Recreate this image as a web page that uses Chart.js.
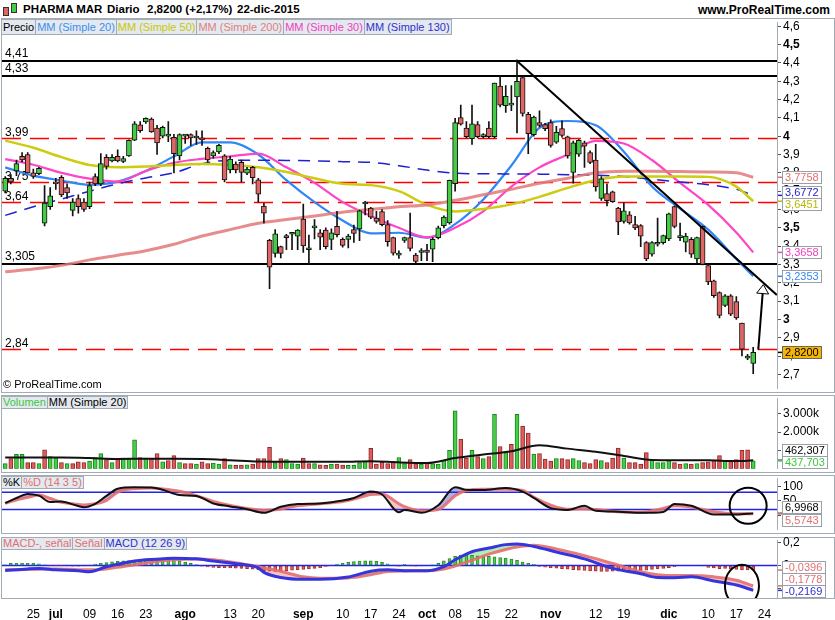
<!DOCTYPE html>
<html>
<head>
<meta charset="utf-8">
<title>PHARMA MAR - Diario</title>
<script src="https://cdn.jsdelivr.net/npm/chart.js@4.4.1/dist/chart.umd.min.js"></script>
<style>
  body { margin: 0; background: #fff; }
  #page { position: relative; width: 835px; height: 620px; overflow: hidden; font-family: Arial, "Liberation Sans", sans-serif; color: #000; }
  #page canvas { position: absolute; left: 0; z-index: 2; }
  .frame { position: absolute; left: 1px; width: 834px; border: 1px solid #a3abb5; box-sizing: border-box; z-index: 1; }
  .head { position: absolute; top: 3px; font-size: 11.5px; font-weight: bold; white-space: nowrap; }
  .tags { position: absolute; left: 1px; display: flex; z-index: 3; }
  .tags span { display: block; font-size: 11px; background: #e3e9ef; border: 1px solid #a3abb5; margin-right: -1px; padding: 0 1px; white-space: nowrap; box-sizing: border-box; }
  .tags.big span { height: 16px; line-height: 14px; font-size: 11px; }
  .tags.small span { height: 13px; line-height: 11px; }
  .ico { position: absolute; border: 1px solid #333; box-sizing: border-box; }
  #copy { position: absolute; left: 3px; top: 378px; font-size: 11px; z-index: 3; }
</style>
</head>
<body>
<div id="page">
  <div class="ico" style="left:3px;top:7px;width:6px;height:9px;background:#e06666"></div>
  <div class="ico" style="left:11px;top:3px;width:6px;height:10px;background:#44cc44"></div>
  <div class="head" style="left:23px">PHARMA MAR</div>
  <div class="head" style="left:107px">Diario</div>
  <div class="head" style="left:147px">2,8200 (+2,17%)</div>
  <div class="head" style="left:237px">22-dic-2015</div>
  <div class="head" style="right:5px;font-size:12px">www.ProRealTime.com</div>

  <div class="frame" style="top:18px;height:375px"></div>
  <div class="frame" style="top:395px;height:78px"></div>
  <div class="frame" style="top:475px;height:59px"></div>
  <div class="frame" style="top:537px;height:62px"></div>

  <canvas id="cMain" width="835" height="385" style="top:13px"></canvas>
  <canvas id="cVol" width="835" height="89" style="top:389px"></canvas>
  <canvas id="cSto" width="835" height="70" style="top:469px"></canvas>
  <canvas id="cMacd" width="835" height="89" style="top:531px"></canvas>

  <div class="tags big" style="top:19px">
    <span>Precio</span><span style="color:#3c8cf0">MM (Simple 20)</span><span style="color:#c8c800">MM (Simple 50)</span><span style="color:#e08080">MM (Simple 200)</span><span style="color:#f040c0">MM (Simple 30)</span><span style="color:#3030d0">MM (Simple 130)</span>
  </div>
  <div class="tags small" style="top:396px"><span style="color:#3cc83c">Volumen</span><span>MM (Simple 20)</span></div>
  <div class="tags small" style="top:476px"><span>%K</span><span style="color:#e07070">%D (14 3 5)</span></div>
  <div class="tags small" style="top:537px"><span style="color:#e07070">MACD-, señal</span><span style="color:#e07070">Señal</span><span style="color:#3030d0">MACD (12 26 9)</span></div>
  <div id="copy">© ProRealTime.com</div>
</div>
<script>
// ---- daily bars, 18-jun-2015 .. 22-dic-2015 (index 0..133) ----
const opens = [3.70,3.77,3.81,3.89,3.90,3.80,3.795,3.525,3.615,3.745,
  3.775,3.72,3.595,3.66,3.64,3.615,3.78,3.74,3.885,3.865,
  3.89,3.862,3.893,3.978,4.062,4.078,4.094,4.044,4.0,4.0,
  3.994,3.893,4.0,4.009,3.99,3.99,3.934,3.893,3.914,3.893,
  3.816,3.848,3.857,3.798,3.83,3.762,3.619,3.431,3.36,3.397,
  3.458,3.465,3.455,3.547,3.38,3.50,3.473,3.487,3.437,3.508,
  3.437,3.437,3.49,3.494,3.63,3.607,3.553,3.589,3.517,3.446,
  3.351,3.431,3.446,3.351,3.365,3.378,3.383,3.446,3.512,3.526,
  3.741,4.102,4.045,3.987,4.063,3.998,4.045,3.998,4.274,4.166,
  4.17,4.215,4.32,4.12,4.009,4.075,4.063,4.075,3.968,4.041,
  3.996,3.803,3.902,3.964,3.911,3.869,3.66,3.687,3.696,3.607,
  3.535,3.571,3.517,3.512,3.419,3.356,3.41,3.419,3.44,3.616,
  3.446,3.422,3.437,3.33,3.508,3.294,3.21,3.147,3.076,3.129,
  3.097,2.98,2.788,2.76];
const highs = [3.78,3.79,3.87,3.91,3.91,3.82,3.83,3.73,3.72,3.77,
  3.785,3.74,3.66,3.68,3.66,3.75,3.795,3.905,3.90,3.90,
  3.925,3.89,3.98,4.08,4.08,4.10,4.10,4.06,4.055,4.08,
  4.01,4.013,4.01,4.013,4.03,4.03,3.94,3.92,3.955,3.90,
  3.89,3.86,3.87,3.83,3.835,3.77,3.633,3.437,3.49,3.40,
  3.465,3.47,3.49,3.63,3.46,3.545,3.49,3.50,3.495,3.59,
  3.445,3.465,3.515,3.597,3.645,3.612,3.59,3.60,3.54,3.45,
  3.374,3.45,3.58,3.36,3.387,3.41,3.446,3.51,3.565,3.76,
  4.098,4.17,4.08,4.17,4.08,4.015,4.08,4.29,4.33,4.277,
  4.277,4.417,4.33,4.13,4.11,4.138,4.07,4.09,4.054,4.084,
  4.0,3.973,3.982,3.973,3.92,3.955,3.78,3.74,3.70,3.612,
  3.637,3.589,3.562,3.517,3.425,3.425,3.553,3.46,3.58,3.62,
  3.526,3.47,3.446,3.45,3.51,3.30,3.215,3.15,3.135,3.135,
  3.124,2.98,2.81,2.847];
const lows = [3.69,3.74,3.785,3.86,3.80,3.77,3.79,3.51,3.60,3.71,
  3.67,3.66,3.565,3.58,3.59,3.605,3.73,3.73,3.82,3.86,
  3.86,3.855,3.89,3.975,4.02,4.07,4.02,3.90,3.99,3.97,
  3.80,3.87,3.96,3.95,3.955,3.95,3.86,3.88,3.905,3.75,
  3.80,3.80,3.75,3.79,3.74,3.64,3.526,3.168,3.34,3.335,
  3.38,3.38,3.38,3.365,3.30,3.44,3.38,3.385,3.38,3.45,
  3.394,3.39,3.42,3.43,3.57,3.55,3.525,3.51,3.40,3.35,
  3.333,3.42,3.374,3.31,3.32,3.32,3.315,3.44,3.50,3.52,
  3.70,4.06,3.99,3.955,3.99,3.99,3.99,3.99,4.16,4.13,
  4.14,4.018,4.11,3.905,4.0,4.05,4.03,3.94,3.96,3.995,
  3.88,3.744,3.89,3.83,3.85,3.70,3.65,3.62,3.638,3.463,
  3.525,3.52,3.49,3.397,3.32,3.345,3.40,3.41,3.43,3.50,
  3.43,3.369,3.338,3.305,3.298,3.19,3.12,3.008,3.07,3.02,
  3.00,2.80,2.78,2.704];
const closes = [3.77,3.75,3.85,3.87,3.80,3.78,3.825,3.635,3.675,3.74,
  3.68,3.69,3.64,3.615,3.60,3.73,3.74,3.85,3.835,3.885,
  3.865,3.878,3.977,4.068,4.03,4.098,4.023,3.964,4.048,4.004,
  3.905,4.009,4.003,3.991,3.993,3.98,3.871,3.911,3.95,3.762,
  3.875,3.816,3.803,3.821,3.773,3.683,3.58,3.285,3.467,3.36,
  3.446,3.469,3.487,3.401,3.383,3.503,3.449,3.397,3.473,3.463,
  3.404,3.455,3.469,3.592,3.633,3.558,3.535,3.517,3.424,3.362,
  3.362,3.446,3.387,3.317,3.368,3.365,3.437,3.50,3.558,3.759,
  4.075,4.066,3.998,4.068,3.998,4.007,3.998,4.29,4.17,4.218,
  4.174,4.30,4.125,4.014,4.104,4.059,4.041,3.95,4.021,4.004,
  3.893,3.964,3.977,3.946,3.857,3.723,3.768,3.648,3.642,3.532,
  3.592,3.526,3.50,3.455,3.33,3.419,3.419,3.458,3.576,3.508,
  3.449,3.455,3.356,3.446,3.30,3.204,3.129,3.022,3.129,3.029,
  3.008,2.838,2.80,2.82];
// volume in thousands of shares
const volumes = [285,552,785,785,335,335,285,1035,668,618,
  335,285,285,385,335,418,618,835,502,335,
  552,585,552,1585,618,585,552,835,385,452,
  718,335,285,285,252,385,285,318,252,552,
  218,185,200,218,252,552,552,1168,335,552,
  502,285,252,585,285,285,218,185,252,252,
  200,185,185,335,418,1118,252,385,285,385,
  618,285,502,285,252,335,285,252,452,1002,
  3168,1618,585,1002,668,552,668,2968,1218,885,
  1335,2968,2335,1952,802,835,535,418,552,552,
  502,552,452,335,285,502,452,335,585,1135,
  585,335,335,252,885,502,335,335,452,335,
  252,285,252,285,335,385,452,718,418,452,
  502,1002,1035,437.703];

// moving averages, read every 5 bars
const maIdx  = [0,5,10,15,20,25,30,35,40,45,50,55,60,65,70,75,80,85,90,95,100,105,110,115,120,125,130,133];
const sma20  = [3.83,3.785,3.758,3.735,3.752,3.81,3.89,3.966,3.966,3.90,3.76,3.64,3.54,3.47,3.473,3.446,3.52,3.655,3.84,4.045,4.083,4.06,3.915,3.726,3.605,3.49,3.33,3.2353];
const sma30  = [3.875,3.844,3.80,3.768,3.752,3.81,3.855,3.876,3.89,3.905,3.83,3.745,3.64,3.565,3.50,3.448,3.50,3.59,3.725,3.83,3.90,3.975,3.96,3.87,3.745,3.625,3.475,3.3658];
const sma50  = [3.976,3.937,3.886,3.843,3.83,3.834,3.843,3.848,3.843,3.83,3.805,3.77,3.74,3.733,3.70,3.625,3.589,3.603,3.628,3.669,3.718,3.76,3.78,3.78,3.78,3.778,3.725,3.6451];
const sma130 = [3.568,3.615,3.657,3.70,3.74,3.772,3.80,3.85,3.868,3.869,3.868,3.865,3.861,3.857,3.839,3.815,3.798,3.795,3.794,3.793,3.79,3.787,3.78,3.765,3.75,3.735,3.71,3.6772];
const sma200 = [3.26,3.275,3.295,3.325,3.35,3.375,3.41,3.455,3.49,3.525,3.545,3.565,3.585,3.60,3.615,3.625,3.65,3.68,3.71,3.743,3.77,3.80,3.809,3.809,3.807,3.805,3.80,3.7758];
const volMA  = [618,618,618,590,540,550,550,530,470,400,390,385,385,418,352,318,590,780,960,1290,1100,930,700,480,468,460,420,462.307];

// stochastic %K / %D (14 3 5)
const stoIdx = [0,2,4,6,8,10,12,14,16,18,20,23,26,28,31,34,37,40,43,46,49,52,56,60,62,65,67,70,71,74,77,80,82,85,89,92,94,97,100,103,105,109,113,117,119,122,126,130,133];
const stoK = [42,60,74,68,46,48,38,28,40,67,92,97,96,88,70,67,41,31,21,9,30,39,41,51,60,82,72,11,19,9,35,97,88,87,94,82,60,25,19,33,16,13,9,12,39,33,3,3,6.9968];
const stoD = [42,53,62,70,58,45,40,36,40,52,80,92,94,91,83,68,48,34,24,17,22,33,40,48,56,72,74,40,30,16,20,68,86,90,90,86,62,35,21,23,20,13,11,24,33,28,13,6,5.5743];

// MACD (12 26 9)
const macdIdx = [0,4,6,9,13,15,18,21,25,28,30,34,37,42,45,46,49,53,56,61,65,68,71,75,78,80,82,83,86,89,91,94,98,103,108,113,116,119,122,126,130,133];
const macdLine = [-0.044,-0.030,-0.026,-0.038,-0.046,-0.055,-0.011,0.022,0.050,0.058,0.064,0.058,0.039,0.010,-0.02,-0.06,-0.105,-0.121,-0.121,-0.10,-0.05,-0.038,-0.046,-0.046,-0.010,0.05,0.10,0.12,0.152,0.182,0.188,0.166,0.118,0.058,-0.025,-0.072,-0.105,-0.107,-0.099,-0.135,-0.170,-0.2169];
const macdSignal = [-0.038,-0.034,-0.032,-0.030,-0.036,-0.038,-0.030,-0.008,0.02,0.042,0.05,0.056,0.050,0.015,-0.01,-0.022,-0.05,-0.099,-0.112,-0.108,-0.08,-0.052,-0.047,-0.045,-0.03,-0.005,0.03,0.045,0.099,0.14,0.162,0.177,0.145,0.086,0.017,-0.055,-0.08,-0.088,-0.088,-0.099,-0.128,-0.1778];
const macdHist = [0.005,0.018,0.02,0.02,0.02,0.02,0.015,0.005,-0.002,-0.003,
  -0.002,-0.004,-0.006,-0.006,-0.004,0.004,0.012,0.02,0.026,0.032,
  0.036,0.04,0.044,0.048,0.052,0.056,0.06,0.062,0.06,0.055,
  0.048,0.04,0.03,0.018,0.008,-0.006,-0.012,-0.016,-0.018,-0.02,
  -0.022,-0.024,-0.026,-0.028,-0.032,-0.038,-0.045,-0.05,-0.052,-0.05,
  -0.046,-0.04,-0.036,-0.034,-0.03,-0.026,-0.02,-0.008,0.004,0.012,
  0.02,0.028,0.034,0.038,0.04,0.04,0.036,0.028,0.015,0.004,
  -0.006,0.01,-0.004,-0.006,-0.004,0.0,0.006,0.018,0.04,0.06,
  0.08,0.09,0.09,0.088,0.085,0.08,0.08,0.076,0.07,0.064,
  0.056,0.045,0.03,0.02,0.01,-0.008,-0.014,-0.02,-0.024,-0.028,
  -0.032,-0.036,-0.04,-0.044,-0.048,-0.05,-0.052,-0.052,-0.05,-0.05,
  -0.05,-0.048,-0.046,-0.044,-0.04,-0.035,-0.03,-0.025,-0.018,-0.01,
  0.0,0.0,0.0,0.0,-0.004,-0.016,-0.022,-0.028,-0.026,-0.03,
  -0.034,-0.038,-0.038,-0.0396];

// drawn objects
const solidLevels = [4.41, 4.33, 3.305];
const dashLevels  = [3.99, 3.75, 3.64, 2.84];
const trendX = [91, 137.2];
const trendY = [4.41, 3.133];
const arrowX = [133.9, 134.8];
const arrowY = [2.835, 3.19];
const stoRing  = { x: 132.1, y: 33 };
const macdRing = { x: 131.0, y: -0.176 };

// axes
const priceTicks = [2.7,2.8,2.9,3.0,3.1,3.2,3.3,3.4,3.5,3.6,3.7,3.8,3.9,4.0,4.1,4.2,4.3,4.4,4.5,4.6];
const volTicks = [1000, 2000, 3000];
const stoTicks = [0, 50, 100];
const macdTicks = [-0.2, 0, 0.2];
const xTickIdx    = [5,9,15,20,25,32,40,45,53,60,65,70,75,80,85,90,97,105,110,118,125,130,135];
const xTickLabels = ['25','jul','09','16','23','ago','13','20','sep','10','17','24','oct','08','15','22','nov','12','19','dic','10','17','24'];
const monthNames = ['jul','ago','sep','oct','nov','dic'];

const FONT = 'Arial, "Liberation Sans", sans-serif';
const X_MIN = -0.57, X_MAX = 137.23;
const UP = '#44cc44', DOWN = '#e06666';
const days = opens.map((_, i) => i);
const last = a => a[a.length - 1];
const fmt = (v, d) => v.toFixed(d).replace('.', ',');
const pts = (xs, ys) => xs.map((x, k) => ({ x, y: ys[k] }));

function xAxis(show) {
  const ax = { type: 'linear', min: X_MIN, max: X_MAX, offset: false, display: show, grid: { display: false } };
  if (show) {
    ax.afterBuildTicks = s => { s.ticks = xTickIdx.map(v => ({ value: v })); };
    ax.afterFit = s => { s.height = 22; };
    ax.border = { display: true, color: '#a3abb5' };
    ax.ticks = { autoSkip: false, maxRotation: 0, padding: 1, color: '#000',
      callback: (v, k) => xTickLabels[k],
      font: c => ({ size: 12, family: FONT, weight: monthNames.includes(xTickLabels[c.index]) ? 'bold' : 'normal' }) };
  }
  return ax;
}

function yAxis(min, max, ticks, label, font) {
  return {
    position: 'right', min, max,
    afterFit: s => { s.width = 58; },
    afterBuildTicks: s => { s.ticks = ticks.map(v => ({ value: v })); },
    border: { display: true, color: '#a3abb5' },
    grid: { drawOnChartArea: false, drawTicks: true, tickLength: 4, color: '#555' },
    ticks: { autoSkip: false, padding: 2, color: '#000', callback: label, font: font || { size: 12, family: FONT } }
  };
}

function baseOptions(padBottom, scales) {
  return {
    responsive: false, animation: false, events: [],
    layout: { autoPadding: false, padding: { left: 2, right: 0, top: 6, bottom: padBottom } },
    plugins: { legend: { display: false }, tooltip: { enabled: false }, filler: { drawTime: 'beforeDatasetsDraw' } },
    scales
  };
}

function hLine(ctx, a, py) { ctx.beginPath(); ctx.moveTo(a.left, py); ctx.lineTo(a.right, py); ctx.stroke(); }

// value boxes on the right axis, pushed apart when they overlap
function drawTags(chart, tags, gap) {
  const { ctx, chartArea: a, scales: { y } } = chart;
  const items = tags.map(t => ({ ...t, y0: y.getPixelForValue(t.v) })).sort((p, q) => p.y0 - q.y0);
  items.forEach(t => { t.y = t.y0; });
  for (let n = 0; n < 40; n++) {
    for (let j = 1; j < items.length; j++) {
      const d = items[j].y - items[j - 1].y;
      if (d < gap) { const s = (gap - d) / 2; items[j - 1].y -= s; items[j].y += s; }
    }
    items.forEach(t => { t.y = Math.min(Math.max(t.y, a.top + gap / 2), a.bottom - gap / 2 - 1); });
  }
  ctx.save();
  ctx.font = `11px ${FONT}`;
  ctx.textBaseline = 'middle';
  items.forEach(t => {
    const txt = fmt(t.v, t.d);
    const w = Math.ceil(ctx.measureText(txt).width) + 5;
    const top = Math.round(t.y - 6) + 0.5;
    ctx.strokeStyle = t.color; ctx.lineWidth = 1.5;
    ctx.beginPath(); ctx.moveTo(a.right + 1, t.y0); ctx.lineTo(a.right + 5, t.y0); ctx.stroke();
    ctx.fillStyle = t.bg || '#fff';
    ctx.fillRect(a.right + 5.5, top, w, 12);
    ctx.strokeStyle = t.bg ? '#666' : '#98a0aa'; ctx.lineWidth = 1;
    ctx.strokeRect(a.right + 5.5, top, w, 12);
    ctx.fillStyle = t.bg ? '#000' : t.color;
    ctx.fillText(txt, a.right + 8, top + 6.5);
  });
  ctx.restore();
}

function ring(chart, c, rx, ry) {
  const { ctx, chartArea: a, scales: { x, y } } = chart;
  ctx.save();
  ctx.beginPath(); ctx.rect(a.left, a.top, a.right - a.left, a.bottom - a.top); ctx.clip();
  ctx.strokeStyle = '#000'; ctx.lineWidth = 2;
  ctx.beginPath(); ctx.ellipse(x.getPixelForValue(c.x), y.getPixelForValue(c.y), rx, ry, 0, 0, Math.PI * 2); ctx.stroke();
  ctx.restore();
}

// ---------- price panel ----------
const mainDecor = {
  id: 'mainDecor',
  beforeDatasetsDraw(chart) {
    const { ctx, chartArea: a, scales: { y } } = chart;
    ctx.save();
    ctx.font = `12px ${FONT}`;
    ctx.fillStyle = '#000';
    ctx.strokeStyle = '#ff0000'; ctx.lineWidth = 1.3; ctx.setLineDash([19, 9]);
    dashLevels.forEach(v => {
      const py = Math.round(y.getPixelForValue(v)) + 0.5;
      hLine(ctx, a, py);
      ctx.fillText(String(v).replace('.', ','), a.left + 3, py - 3);
    });
    ctx.setLineDash([]);
    ctx.strokeStyle = '#000'; ctx.lineWidth = 2;
    solidLevels.forEach(v => {
      const py = Math.round(y.getPixelForValue(v));
      hLine(ctx, a, py);
      ctx.fillText(String(v).replace('.', ','), a.left + 3, py - 4);
    });
    ctx.restore();
  },
  afterDatasetsDraw(chart) {
    const { ctx, scales: { x, y } } = chart;
    const x0 = x.getPixelForValue(arrowX[0]), y0 = y.getPixelForValue(arrowY[0]);
    const x1 = x.getPixelForValue(arrowX[1]), y1 = y.getPixelForValue(arrowY[1]);
    const ang = Math.atan2(y1 - y0, x1 - x0);
    const bx = x1 - Math.cos(ang) * 9, by = y1 - Math.sin(ang) * 9;
    ctx.save();
    ctx.strokeStyle = '#000'; ctx.lineWidth = 2;
    ctx.beginPath(); ctx.moveTo(x0, y0); ctx.lineTo(bx, by); ctx.stroke();
    ctx.lineWidth = 1; ctx.fillStyle = '#fff';
    const px = -Math.sin(ang) * 6, py = Math.cos(ang) * 6;
    ctx.beginPath(); ctx.moveTo(x1, y1); ctx.lineTo(bx + px, by + py); ctx.lineTo(bx - px, by - py); ctx.closePath();
    ctx.fill(); ctx.stroke();
    ctx.restore();
  },
  afterDraw(chart) {
    drawTags(chart, [
      { v: last(sma200), d: 4, color: '#e07070' },
      { v: last(sma130), d: 4, color: '#2424c8' },
      { v: last(sma50), d: 4, color: '#b8b800' },
      { v: last(sma30), d: 4, color: '#f040c0' },
      { v: last(sma20), d: 4, color: '#3385f0' },
      { v: last(closes), d: 4, color: '#000', bg: '#f7b500' }
    ], 12);
  }
};

function maLine(vals, color, width, dash) {
  return { type: 'line', data: pts(maIdx, vals), borderColor: color, borderWidth: width, borderDash: dash || [],
    pointRadius: 0, cubicInterpolationMode: 'monotone', order: 5 };
}

new Chart(document.getElementById('cMain'), {
  type: 'bar',
  data: { datasets: [
    { data: days.map(i => ({ x: i, y: [opens[i], closes[i]] })), backgroundColor: days.map(i => closes[i] >= opens[i] ? UP : DOWN),
      borderColor: '#111', borderWidth: 1, borderSkipped: false, barThickness: 5, minBarLength: 2, grouped: false, order: 1 },
    { data: days.map(i => ({ x: i, y: [lows[i], highs[i]] })), backgroundColor: '#111', barThickness: 1, grouped: false, order: 2 },
    maLine(sma200, 'rgba(226,120,120,0.85)', 3),
    maLine(sma50, '#cccc10', 2.5),
    maLine(sma130, '#2020d0', 1.5, [12, 8]),
    maLine(sma30, '#ff44c8', 2.2),
    maLine(sma20, '#2f86f5', 2.2),
    { type: 'line', data: pts(trendX, trendY), borderColor: '#000', borderWidth: 2, pointRadius: 0, order: 0 }
  ] },
  options: baseOptions(6, {
    x: xAxis(false),
    y: yAxis(2.6212, 4.6223, priceTicks, v => String(Math.round(v * 10) / 10).replace('.', ','),
      c => ({ size: 12, family: FONT, weight: c.tick && Math.abs(c.tick.value * 2 - Math.round(c.tick.value * 2)) < 1e-6 ? 'bold' : 'normal' }))
  }),
  plugins: [mainDecor]
});

// ---------- volume panel ----------
new Chart(document.getElementById('cVol'), {
  type: 'bar',
  data: { datasets: [
    { type: 'line', data: pts(maIdx, volMA), borderColor: '#111', borderWidth: 2, pointRadius: 0, cubicInterpolationMode: 'monotone', order: 0 },
    { data: days.map(i => ({ x: i, y: volumes[i] })),
      backgroundColor: days.map(i => (i === 0 || closes[i] >= closes[i - 1]) ? '#44d044' : '#e05c5c'),
      borderColor: days.map(i => (i === 0 || closes[i] >= closes[i - 1]) ? '#1f7f1f' : '#8f2a2a'),
      borderWidth: 1, borderSkipped: false, barThickness: 4, grouped: false, order: 1 }
  ] },
  options: baseOptions(6, { x: xAxis(false), y: yAxis(0, 3850, volTicks, v => (v / 1000) + '.000k') }),
  plugins: [{ id: 'volTags', afterDraw(chart) {
    drawTags(chart, [{ v: last(volMA), d: 3, color: '#000' }, { v: last(volumes), d: 3, color: '#3cc83c' }], 12);
  } }]
});

// ---------- stochastic panel ----------
new Chart(document.getElementById('cSto'), {
  type: 'line',
  data: { datasets: [
    { data: pts(stoIdx, stoK), borderColor: '#111', borderWidth: 2, pointRadius: 0, cubicInterpolationMode: 'monotone', order: 1,
      fill: { target: 1, above: 'rgba(140,140,210,0.7)', below: 'rgba(240,160,160,0.6)' } },
    { data: pts(stoIdx, stoD), borderColor: 'rgba(230,110,110,0.9)', borderWidth: 3, pointRadius: 0, cubicInterpolationMode: 'monotone', order: 2 }
  ] },
  options: baseOptions(6, { x: xAxis(false), y: yAxis(-49.5, 128, stoTicks, v => String(v)) }),
  plugins: [{ id: 'stoDecor',
    beforeDatasetsDraw(chart) {
      const { ctx, chartArea: a, scales: { y } } = chart;
      ctx.save(); ctx.strokeStyle = '#2323e6'; ctx.lineWidth = 1.5;
      [80, 20].forEach(v => hLine(ctx, a, y.getPixelForValue(v)));
      ctx.restore();
    },
    afterDatasetsDraw(chart) { ring(chart, stoRing, 18.5, 18); },
    afterDraw(chart) {
      drawTags(chart, [{ v: last(stoK), d: 4, color: '#000' }, { v: last(stoD), d: 4, color: '#e07070' }], 13);
    } }]
});

// ---------- MACD panel ----------
new Chart(document.getElementById('cMacd'), {
  type: 'bar',
  data: { datasets: [
    { data: days.map(i => ({ x: i, y: macdHist[i] })),
      backgroundColor: macdHist.map(v => v >= 0 ? '#4fd04f' : '#e06060'),
      borderColor: macdHist.map(v => v >= 0 ? '#2a8a2a' : '#a03030'),
      borderWidth: 1, borderSkipped: false, barThickness: 3, grouped: false, order: 3 },
    { type: 'line', data: pts(macdIdx, macdLine), borderColor: '#3535dd', borderWidth: 3, pointRadius: 0, cubicInterpolationMode: 'monotone', order: 1,
      fill: { target: 2, above: 'rgba(130,225,130,0.6)', below: 'rgba(240,150,150,0.55)' } },
    { type: 'line', data: pts(macdIdx, macdSignal), borderColor: 'rgba(230,110,110,0.9)', borderWidth: 3, pointRadius: 0, cubicInterpolationMode: 'monotone', order: 2 }
  ] },
  options: baseOptions(0, { x: xAxis(true), y: yAxis(-0.2835, 0.2207, macdTicks, v => String(v).replace('.', ',')) }),
  plugins: [{ id: 'macdDecor',
    beforeDatasetsDraw(chart) {
      const { ctx, chartArea: a, scales: { y } } = chart;
      ctx.save(); ctx.strokeStyle = '#2323e6'; ctx.lineWidth = 1.5;
      hLine(ctx, a, y.getPixelForValue(0));
      ctx.restore();
    },
    afterDatasetsDraw(chart) { ring(chart, macdRing, 17, 21); },
    afterDraw(chart) {
      drawTags(chart, [
        { v: last(macdHist), d: 4, color: '#e07070' },
        { v: last(macdSignal), d: 4, color: '#e07070' },
        { v: last(macdLine), d: 4, color: '#3030d0' }
      ], 12);
    } }]
});
</script>
</body>
</html>
